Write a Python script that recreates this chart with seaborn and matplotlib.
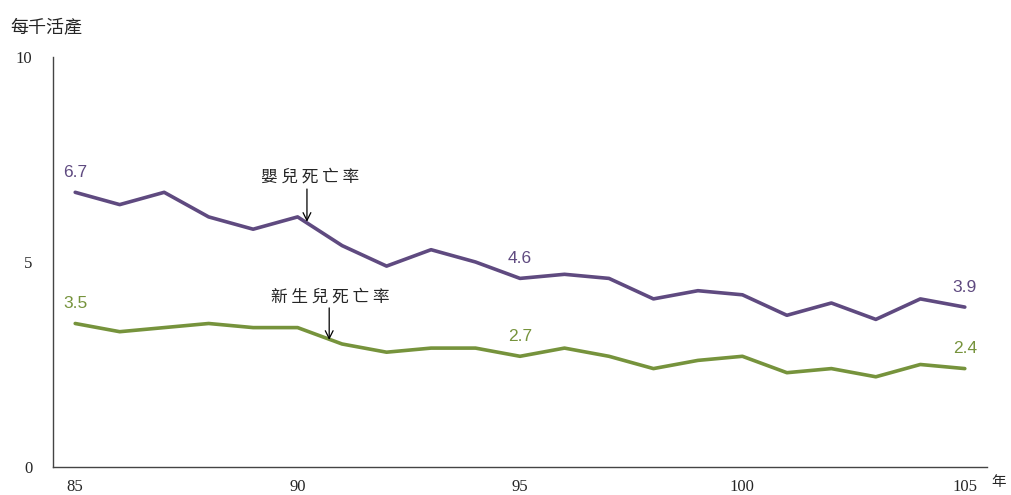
import matplotlib
matplotlib.use("Agg")
import matplotlib.pyplot as plt
import seaborn as sns
import pandas as pd
import numpy as np

# 民國年 85-105
years = list(range(85, 106))
infant = [6.7, 6.4, 6.7, 6.1, 5.8, 6.1, 5.4, 4.9, 5.3, 5.0, 4.6,
          4.7, 4.6, 4.1, 4.3, 4.2, 3.7, 4.0, 3.6, 4.1, 3.9]
neonatal = [3.5, 3.3, 3.4, 3.5, 3.4, 3.4, 3.0, 2.8, 2.9, 2.9, 2.7,
            2.9, 2.7, 2.4, 2.6, 2.7, 2.3, 2.4, 2.2, 2.5, 2.4]
series_names = ["嬰兒死亡率", "新生兒死亡率"]
colors = ["#5F4A80", "#76933C"]
tick_years = [85, 90, 95, 100, 105]
label_years = [85, 95, 105]

df = pd.DataFrame({
    "pos": list(range(len(years))) * 2,
    "rate": infant + neonatal,
    "series": [series_names[0]] * len(years) + [series_names[1]] * len(years),
})

sns.set_style("white")
plt.rcParams["font.family"] = ["Liberation Serif", "Noto Sans CJK TC"]

fig = plt.figure(figsize=(10.11, 4.95), dpi=100)
ax = fig.add_axes([0.0524, 0.0566, 0.9239, 0.8282])

sns.lineplot(data=df, x="pos", y="rate", hue="series", palette=colors,
             linewidth=2.6, legend=False, ax=ax)

ax.set_xlim(-0.5, len(years) - 0.5)
ax.set_ylim(0, 10)
ax.set_xlabel("")
ax.set_ylabel("")
for s in ["top", "right"]:
    ax.spines[s].set_visible(False)
for s in ["left", "bottom"]:
    ax.spines[s].set_color("#444444")
    ax.spines[s].set_linewidth(1.0)

# category axis: ticks between categories, labels every 5 years
ax.set_xticks(np.arange(-0.5, len(years)), minor=True)
ax.set_xticks([years.index(y) for y in tick_years])
ax.set_xticklabels([str(y) for y in tick_years], fontsize=12)
ax.tick_params(axis="x", which="major", length=0, pad=9)
ax.tick_params(axis="x", which="minor", length=5, color="#444444", direction="out")
ax.set_yticks([0, 5, 10])
ax.set_yticklabels(["0", "5", "10"], fontsize=12)
ax.tick_params(axis="y", length=5, color="#444444", direction="out", pad=10)

# value labels
for vals, c in [(infant, colors[0]), (neonatal, colors[1])]:
    for y in label_years:
        i = years.index(y)
        ax.text(i, vals[i] + 0.3, f"{vals[i]:.1f}", color=c, fontsize=12.5,
                family="Liberation Sans", ha="center", va="bottom")

# series annotations with arrows
cjk = ["Noto Sans CJK TC", "DejaVu Sans"]
ax.text(5.28, 7.07, " ".join(series_names[0]), fontsize=12, family=cjk,
        ha="center", va="center")
ax.annotate("", xy=(5.21, 5.98), xytext=(5.21, 6.78),
            arrowprops=dict(arrowstyle="->", color="black", lw=0.9,
                            shrinkA=0, shrinkB=0, mutation_scale=14))
ax.text(5.73, 4.15, " ".join(series_names[1]), fontsize=12, family=cjk,
        ha="center", va="center")
ax.annotate("", xy=(5.71, 3.1), xytext=(5.71, 3.88),
            arrowprops=dict(arrowstyle="->", color="black", lw=0.9,
                            shrinkA=0, shrinkB=0, mutation_scale=14))

fig.text(0.01, 0.945, "每千活產", fontsize=13, family=cjk, ha="left", va="center")
fig.text(0.981, 0.026, "年", fontsize=10.5, family=cjk, ha="left", va="center")

fig.savefig("out.png", dpi=100)
